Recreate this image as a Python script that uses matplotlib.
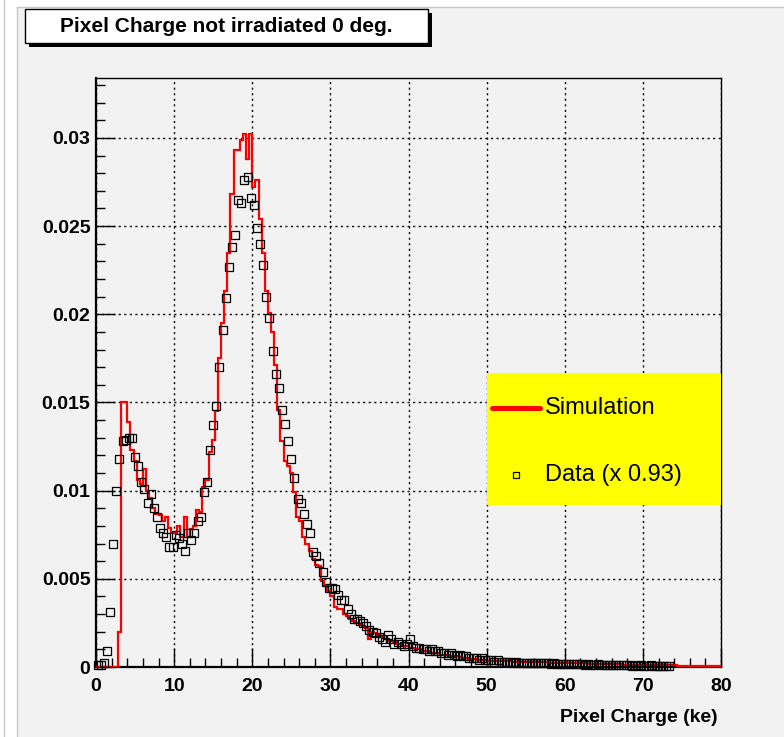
import numpy as np
import matplotlib
matplotlib.use("Agg")
import matplotlib.pyplot as plt
from matplotlib.patches import Rectangle
from matplotlib.lines import Line2D
from matplotlib.ticker import MultipleLocator, FixedLocator, FixedFormatter

plt.rcParams['font.family'] = ['Liberation Sans', 'DejaVu Sans']
plt.rcParams['font.weight'] = 'bold'

# histogram binning (ke)
bin_width = 0.4

# simulation histogram, one value per 0.4 ke bin from 0 to 80 ke
sim_values = [
    0, 0, 0, 0, 0, 0, 0, 0.0020, 0.0150, 0.0150,
    0.0139, 0.0123, 0.0117, 0.0106, 0.0104, 0.0112, 0.0100, 0.0096, 0.0090, 0.0087,
    0.0086, 0.0083, 0.0085, 0.0079, 0.0076, 0.0076, 0.0080, 0.0074, 0.0085, 0.0074,
    0.0078, 0.0080, 0.0089, 0.0088, 0.0102, 0.0106, 0.0122, 0.0129, 0.0145, 0.0175,
    0.0195, 0.0213, 0.0235, 0.0268, 0.0293, 0.0293, 0.0299, 0.0302, 0.0288, 0.0302,
    0.0272, 0.0276, 0.0254, 0.0235, 0.0213, 0.0201, 0.0190, 0.0171, 0.0146, 0.0128,
    0.0117, 0.0114, 0.0110, 0.0099, 0.0085, 0.0083, 0.0074, 0.0070, 0.0066, 0.0061,
    0.0058, 0.0057, 0.0049, 0.0046, 0.0043, 0.0040, 0.0034, 0.0033, 0.0033, 0.0030,
    0.0029, 0.0027, 0.0026, 0.0025, 0.0024, 0.0023, 0.0022, 0.0016, 0.0020, 0.0019,
    0.0018, 0.0017, 0.0016, 0.0015, 0.0015, 0.0014, 0.0013, 0.0013, 0.0012, 0.0012,
    0.0011, 0.0011, 0.0010, 0.0010, 0.0009, 0.0009, 0.0009, 0.0008, 0.0008, 0.0008,
    0.0007, 0.0007, 0.0007, 0.0006, 0.0006, 0.0006, 0.00055, 0.0005, 0.0005, 0.00048,
    0.00045, 0.00045, 0.0004, 0.0004, 0.00038, 0.00036,
    0.00036, 0.00035, 0.00034, 0.00034, 0.00033, 0.00032, 0.00032, 0.00031, 0.0003, 0.0003,
    0.00029, 0.00029, 0.00028, 0.00028, 0.00027, 0.00027, 0.00026, 0.00026, 0.00026, 0.00025,
    0.00025, 0.00024, 0.00024, 0.00023,
    0.00023, 0.00022, 0.00022, 0.00021, 0.00021, 0.0002, 0.0002, 0.00019, 0.00019, 0.00018,
    0.00018, 0.00017, 0.00017, 0.00016, 0.00016, 0.00016, 0.00015, 0.00015, 0.00014, 0.00014,
    0.00014, 0.00013, 0.00013, 0.00013, 0.00012,
    0.00012, 0.00011, 0.00011, 0.00011, 0.0001, 0.0001, 0.0001, 0.0001, 0.00009, 0.00009,
    0.00009, 0.00008, 0.00008, 0.00008, 0.00008, 0.00007, 0.00007, 0.00007, 0.00007, 0.00006,
    0.00006, 0.00006, 0.00006, 0.00006, 0.00005,
]

# measured data (scaled x 0.93), one value per 0.4 ke bin starting at 0
data_values = [
    0.0001, 0.0001, 0.0002, 0.0009, 0.0031, 0.0070, 0.0100, 0.0118, 0.0128, 0.0129,
    0.0130, 0.0130, 0.0119, 0.0114, 0.0105, 0.0101, 0.0093, 0.0098, 0.0090, 0.0085,
    0.0079, 0.0076, 0.0074, 0.0068, 0.0068, 0.0075, 0.0073, 0.0070, 0.0066, 0.0076,
    0.0072, 0.0076, 0.0083, 0.0085, 0.0099, 0.0105, 0.0123, 0.0137, 0.0148, 0.0170,
    0.0191, 0.0209, 0.0227, 0.0238, 0.0245, 0.0265, 0.0263, 0.0276, 0.0278, 0.0266,
    0.0262, 0.0249, 0.0240, 0.0228, 0.0210, 0.0198, 0.0179, 0.0166, 0.0158, 0.0146,
    0.0138, 0.0128, 0.0118, 0.0107, 0.0095, 0.0093, 0.0087, 0.0081, 0.0076, 0.0065,
    0.0063, 0.0059, 0.0054, 0.0048, 0.0045, 0.0045, 0.0044, 0.0041, 0.0038, 0.0038,
    0.0033, 0.0030, 0.0027, 0.0027, 0.0026, 0.0025, 0.0023, 0.0021, 0.0020, 0.0019,
    0.0017, 0.0016, 0.0014, 0.0018, 0.0016, 0.0013, 0.0014, 0.0013, 0.0012, 0.0013,
    0.0016, 0.0012, 0.0011, 0.0011, 0.0010, 0.0010, 0.0009, 0.0010, 0.0009, 0.0009,
    0.0008, 0.0008, 0.0007, 0.0008, 0.0007, 0.0006, 0.0007, 0.0006, 0.0006, 0.0005,
    0.0005, 0.0005, 0.0004, 0.0005, 0.0004, 0.0004,
    0.0004, 0.0003, 0.0004, 0.0003, 0.0003, 0.0003, 0.0003, 0.00025, 0.0003, 0.00025,
    0.00025, 0.0002, 0.00025, 0.0002, 0.0002, 0.00025, 0.0002, 0.0002, 0.0002, 0.00018,
    0.0002, 0.00018, 0.00018, 0.00015,
    0.00018, 0.00015, 0.00015, 0.00018, 0.00015, 0.00015, 0.00012, 0.00015, 0.00012, 0.00012,
    0.00015, 0.00012, 0.00012, 0.0001, 0.00012, 0.0001, 0.0001, 0.00012, 0.0001, 0.0001,
    0.0001, 0.00008, 0.0001, 0.00008, 0.0001, 0.00008, 0.00008, 0.0001, 0.00008, 0.00008,
    0.00008, 0.00008, 0.00006, 0.00008,
]

xtick_pos = [0, 10, 20, 30, 40, 50, 60, 70, 80]
xtick_labels = ['0', '10', '20', '30', '40', '50', '60', '70', '80']
ytick_pos = [0, 0.005, 0.01, 0.015, 0.02, 0.025, 0.03]
ytick_labels = ['0', '0.005', '0.01', '0.015', '0.02', '0.025', '0.03']

title = 'Pixel Charge not irradiated 0 deg.'
xlabel = 'Pixel Charge (ke)'
legend_labels = ['Simulation', 'Data (x 0.93)']

W, H = 784, 737


def fx(px):
    return px / W


def fy(py):
    return 1 - py / H


fig = plt.figure(figsize=(W / 100, H / 100), dpi=100, facecolor='white')

# canvas background (ROOT style pad)
fig.add_artist(Rectangle((fx(17), 0), 1 - fx(17), fy(7), transform=fig.transFigure,
                         facecolor='#f2f2f2', edgecolor='none', zorder=-5))
fig.add_artist(Line2D([fx(17), fx(17)], [0, fy(7)], transform=fig.transFigure,
                      color='#c8c8c8', lw=1, zorder=-4))
fig.add_artist(Line2D([fx(17), 1], [fy(7), fy(7)], transform=fig.transFigure,
                      color='#c8c8c8', lw=1, zorder=-4))
fig.add_artist(Line2D([fx(4), fx(4)], [0, 1], transform=fig.transFigure,
                      color='#c8c8c8', lw=1, zorder=-4))

ax = fig.add_axes([fx(96), fy(667), (721 - 96) / W, (667 - 78) / H])
ax.set_facecolor('#f2f2f2')

# simulation histogram
edges = bin_width * np.arange(len(sim_values) + 1)
ax.stairs(sim_values, edges, color='red', lw=1.6, zorder=3)

# data points
data_x = bin_width * (np.arange(len(data_values)) + 0.5)
ax.plot(data_x, data_values, ls='none', marker='s', ms=5.3, mfc='none', mec='black',
        mew=0.9, zorder=4, clip_on=False)

ax.set_xlim(0, 80)
ax.set_ylim(0, 0.0334)
ax.xaxis.set_major_locator(FixedLocator(xtick_pos))
ax.xaxis.set_major_formatter(FixedFormatter(xtick_labels))
ax.yaxis.set_major_locator(FixedLocator(ytick_pos))
ax.yaxis.set_major_formatter(FixedFormatter(ytick_labels))
ax.xaxis.set_minor_locator(MultipleLocator(2))
ax.yaxis.set_minor_locator(MultipleLocator(0.001))
ax.tick_params(which='both', direction='in', top=False, right=False, width=1, labelsize=14)
ax.tick_params(which='major', length=14)
ax.tick_params(which='minor', length=6.5)
ax.tick_params(axis='x', pad=8)
ax.tick_params(axis='y', pad=4)

ax.grid(which='major', color='black', ls=(0, (1.5, 2.5)), lw=1.0)
for side in ['left', 'bottom']:
    ax.spines[side].set_linewidth(1.6)
for side in ['top', 'right']:
    ax.spines[side].set_linewidth(1.0)

fig.text(fx(718), fy(718), xlabel, ha='right', va='center', fontsize=14, fontweight='bold')

# legend box
ax.add_patch(Rectangle((0.6256, 0.275), 0.3744, 0.2242, transform=ax.transAxes,
                       facecolor='#ffff00', edgecolor='none', zorder=6))
ax.add_line(Line2D([0.633, 0.711], [0.4397, 0.4397], transform=ax.transAxes, color='red',
                   lw=3.6, solid_capstyle='round', zorder=7))
ax.add_line(Line2D([0.672], [0.326], transform=ax.transAxes, ls='none', marker='s', ms=4,
                   mfc='none', mec='black', mew=0.9, zorder=7))
legend_font = ['Liberation Sans', 'DejaVu Sans']
ax.text(0.7184, 0.4397, legend_labels[0], transform=ax.transAxes, ha='left', va='center',
        fontsize=17, fontweight='normal', family=legend_font, zorder=8)
ax.text(0.7184, 0.326, legend_labels[1], transform=ax.transAxes, ha='left', va='center',
        fontsize=17, fontweight='normal', family=legend_font, zorder=8)

# title box with shadow
fig.add_artist(Rectangle((fx(29), fy(47)), (432 - 29) / W, (47 - 13) / H,
                         transform=fig.transFigure, facecolor='black', edgecolor='none', zorder=10))
fig.add_artist(Rectangle((fx(25), fy(43)), (428 - 25) / W, (43 - 9) / H,
                         transform=fig.transFigure, facecolor='white', edgecolor='black',
                         lw=1, zorder=11))
fig.text(fx(226.5), fy(26.5), title, ha='center', va='center', fontsize=15,
         fontweight='bold', zorder=12)

fig.savefig('out.png', dpi=100, facecolor=fig.get_facecolor())
